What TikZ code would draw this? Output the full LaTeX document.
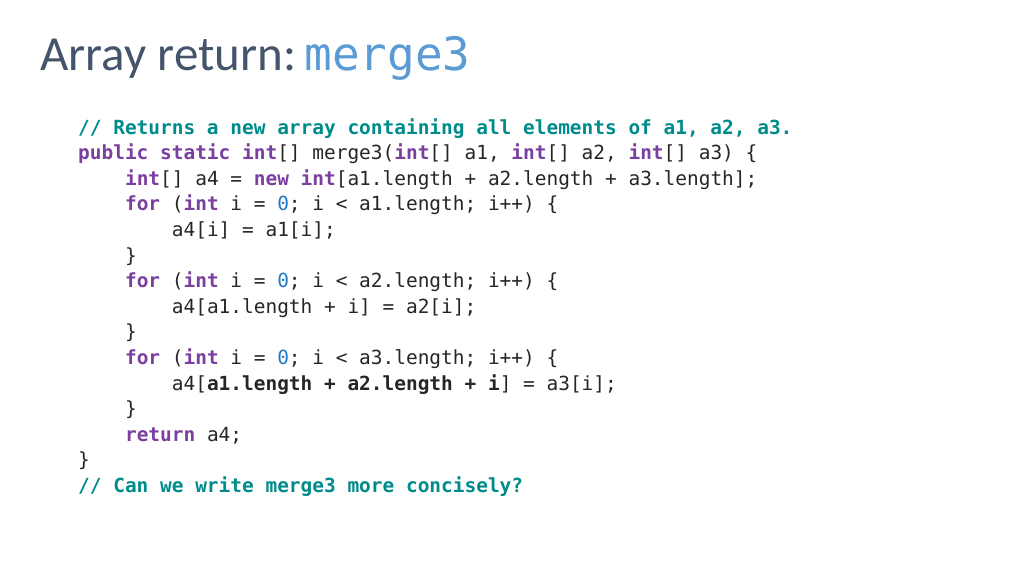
\documentclass[tikz,border=0pt]{standalone}
\usepackage{fontspec}
\setmainfont{Carlito}
\setmonofont{DejaVu Sans Mono}
\definecolor{ttl}{HTML}{44546A}
\definecolor{ttlb}{HTML}{5B9BD5}
\definecolor{cmc}{HTML}{008B8B}
\definecolor{kwc}{HTML}{7B3FA0}
\definecolor{nmc}{HTML}{1F7AC4}
\definecolor{codec}{HTML}{262626}
\newcommand{\kwd}[1]{\textcolor{kwc}{\bfseries #1}}
\newcommand{\cmt}[1]{\textcolor{cmc}{\bfseries #1}}
\newcommand{\nmb}[1]{\textcolor{nmc}{#1}}
\newcommand{\ind}{\hphantom{xxxx}}
\begin{document}
\begin{tikzpicture}[x=1pt,y=-1pt,
  code/.style={anchor=base west,inner sep=0pt,font=\ttfamily\fontsize{19.45}{22}\selectfont,text=codec}]
\useasboundingbox (0,0) rectangle (1024,576);
\node[anchor=base west,inner sep=0pt,text=ttl,font=\fontsize{49}{56}\selectfont] (title) at (40,70) {Array return:\,\textcolor{ttlb}{\ttfamily\fontsize{46}{52}\selectfont merge3}};
\def\b{134}\def\s{25.6}
\node[code] (l1) at (78,{\b+0*\s}) {\cmt{// Returns a new array containing all elements of a1, a2, a3.}};
\node[code] (l2) at (78,{\b+1*\s}) {\kwd{public static int}[] merge3(\kwd{int}[] a1, \kwd{int}[] a2, \kwd{int}[] a3) \{};
\node[code] (l3) at (78,{\b+2*\s}) {\ind\kwd{int}[] a4 = \kwd{new int}[a1.length + a2.length + a3.length];};
\node[code] (l4) at (78,{\b+3*\s}) {\ind\kwd{for} (\kwd{int} i = \nmb{0}; i < a1.length; i++) \{};
\node[code] (l5) at (78,{\b+4*\s}) {\ind\ind a4[i] = a1[i];};
\node[code] (l6) at (78,{\b+5*\s}) {\ind\}};
\node[code] (l7) at (78,{\b+6*\s}) {\ind\kwd{for} (\kwd{int} i = \nmb{0}; i < a2.length; i++) \{};
\node[code] (l8) at (78,{\b+7*\s}) {\ind\ind a4[a1.length + i] = a2[i];};
\node[code] (l9) at (78,{\b+8*\s}) {\ind\}};
\node[code] (l10) at (78,{\b+9*\s}) {\ind\kwd{for} (\kwd{int} i = \nmb{0}; i < a3.length; i++) \{};
\node[code] (l11) at (78,{\b+10*\s}) {\ind\ind a4[\textbf{a1.length + a2.length + i}] = a3[i];};
\node[code] (l12) at (78,{\b+11*\s}) {\ind\}};
\node[code] (l13) at (78,{\b+12*\s}) {\ind\kwd{return} a4;};
\node[code] (l14) at (78,{\b+13*\s}) {\}};
\node[code] (l15) at (78,{\b+14*\s}) {\cmt{// Can we write merge3 more concisely?}};
\end{tikzpicture}
\end{document}
